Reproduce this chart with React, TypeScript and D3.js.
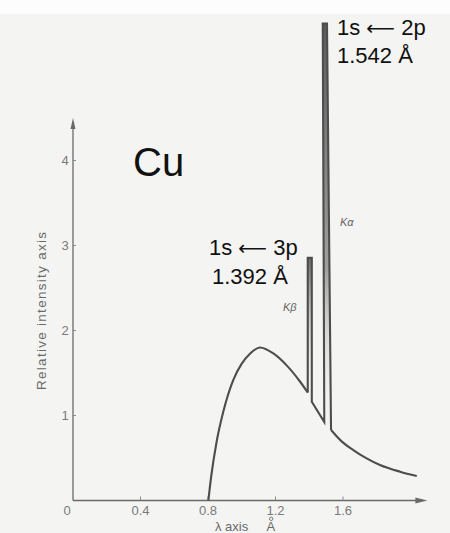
import React from "react";
import * as d3 from "d3";

// Continuum (bremsstrahlung) rise — wavelength (Å) and relative intensity
const riseLambda = [0.802, 0.82, 0.85, 0.89, 0.95, 1.0, 1.05, 1.108, 1.187, 1.266, 1.345, 1.391];
const riseIntensity = [0, 0.3, 0.68, 1.04, 1.42, 1.61, 1.73, 1.8, 1.73, 1.59, 1.4, 1.27];

// Characteristic lines Kβ and Kα
const peakLambda = [1.391, 1.391, 1.415, 1.415, 1.489, 1.48, 1.505, 1.529];
const peakIntensity = [1.27, 2.855, 2.855, 1.162, 0.924, 5.61, 5.61, 0.83];

// Continuum decay after Kα
const decayLambda = [1.529, 1.595, 1.661, 1.74, 1.819, 1.938, 2.037];
const decayIntensity = [0.83, 0.69, 0.594, 0.496, 0.418, 0.339, 0.288];

const xTicks = [0, 0.4, 0.8, 1.2, 1.6];
const xTickLabels = ["0", "0.4", "0.8", "1.2", "1.6"];
const yTicks = [1, 2, 3, 4];
const yTickLabels = ["1", "2", "3", "4"];

const W = 450;
const H = 533;

export default function App() {
  const x = d3.scaleLinear().domain([0, 2.1]).range([73, 427.4]);
  const y = d3.scaleLinear().domain([0, 4.5]).range([500.5, 118]);

  const smooth = d3
    .line<[number, number]>()
    .x((d) => x(d[0]))
    .y((d) => y(d[1]))
    .curve(d3.curveMonotoneX);
  const straight = d3
    .line<[number, number]>()
    .x((d) => x(d[0]))
    .y((d) => y(d[1]))
    .curve(d3.curveLinear);

  const rise = riseLambda.map((l, i) => [l, riseIntensity[i]] as [number, number]);
  const peaks = peakLambda.map((l, i) => [l, peakIntensity[i]] as [number, number]);
  const decay = decayLambda.map((l, i) => [l, decayIntensity[i]] as [number, number]);

  const kbFill: [number, number][] = [peaks[1], peaks[2], peaks[3], peaks[0]];
  const kaFill: [number, number][] = [peaks[5], peaks[6], peaks[7], peaks[4]];

  const stroke = "#4d4d4d";
  const axisColor = "#6a6a6a";
  const x0 = x(0);
  const y0 = y(0);
  const xEnd = x(2.1);
  const yTop = y(4.5);
  const font = "Liberation Sans, Arial, sans-serif";
  const arrowFont = "DejaVu Sans, sans-serif";

  return (
    <svg
      width={W}
      height={H}
      viewBox={`0 0 ${W} ${H}`}
      style={{ position: "absolute", left: 0, top: 0, display: "block" }}
    >
      <defs>
        <linearGradient id="kaGrad" x1="0" y1="0" x2="0" y2="1">
          <stop offset="0" stopColor="#5a5a5a" />
          <stop offset="0.6" stopColor="#7a7a7a" stopOpacity="0.7" />
          <stop offset="1" stopColor="#ffffff" stopOpacity="0" />
        </linearGradient>
        <linearGradient id="kbGrad" x1="0" y1="0" x2="0" y2="1">
          <stop offset="0" stopColor="#6a6a6a" />
          <stop offset="0.4" stopColor="#9a9a9a" stopOpacity="0.5" />
          <stop offset="1" stopColor="#ffffff" stopOpacity="0" />
        </linearGradient>
      </defs>
      <rect x={0} y={0} width={W} height={H} fill="#f4f4f2" />
      <rect x={0} y={0} width={W} height={14} fill="#fdfdfd" />

      {/* axes */}
      <line x1={x0} y1={y0} x2={xEnd - 6} y2={y0} stroke={axisColor} strokeWidth={1.3} />
      <path
        d={`M${xEnd},${y0} L${xEnd - 12},${y0 - 3} L${xEnd - 12},${y0 + 3} Z`}
        fill={axisColor}
      />
      <line x1={x0} y1={y0} x2={x0} y2={yTop + 6} stroke={axisColor} strokeWidth={1.3} />
      <path
        d={`M${x0},${yTop} L${x0 - 2.5},${yTop + 11} L${x0 + 2.5},${yTop + 11} Z`}
        fill={axisColor}
      />

      {xTicks.map((t, i) =>
        t === 0 ? null : (
          <line key={"xt" + i} x1={x(t)} x2={x(t)} y1={y0} y2={y0 - 4} stroke="#8a8a8a" strokeWidth={1} />
        )
      )}
      {xTicks.map((t, i) => (
        <text
          key={"xl" + i}
          x={t === 0 ? x(t) - 6 : x(t)}
          y={515}
          textAnchor="middle"
          fontFamily={font}
          fontSize={13}
          fill="#7a7a7a"
        >
          {xTickLabels[i]}
        </text>
      ))}
      {yTicks.map((t, i) => (
        <g key={"yt" + i}>
          <line x1={x0} x2={x0 + 3} y1={y(t)} y2={y(t)} stroke="#8a8a8a" strokeWidth={1} />
          <text
            x={x0 - 8}
            y={y(t)}
            dy="0.35em"
            textAnchor="middle"
            fontFamily={font}
            fontSize={13}
            fill="#7a7a7a"
          >
            {yTickLabels[i]}
          </text>
        </g>
      ))}

      <text
        transform={`translate(46, 311) rotate(-90)`}
        textAnchor="middle"
        fontFamily={font}
        fontSize={13.5}
        fill="#6a6a6a"
        textLength={158}
        lengthAdjust="spacing"
      >
        Relative intensity axis
      </text>

      <text x={215} y={530.5} fontFamily={font} fontSize={13} fill="#6a6a6a">
        λ axis
      </text>
      <text x={266.5} y={530.5} fontFamily={font} fontSize={13} fill="#6a6a6a">
        A
      </text>
      <circle cx={271.2} cy={518.8} r={1.7} fill="none" stroke="#6a6a6a" strokeWidth={0.9} />

      {/* peak fills */}
      <path d={straight(kbFill) + "Z"} fill="url(#kbGrad)" stroke="none" />
      <path d={straight(kaFill) + "Z"} fill="url(#kaGrad)" stroke="none" />

      {/* spectrum */}
      <path d={smooth(rise) || ""} fill="none" stroke={stroke} strokeWidth={2.1} strokeLinejoin="round" />
      <path d={straight(peaks) || ""} fill="none" stroke={stroke} strokeWidth={2.1} strokeLinejoin="miter" />
      <path d={smooth(decay) || ""} fill="none" stroke={stroke} strokeWidth={2.1} strokeLinejoin="round" />

      {/* annotations */}
      <text x={133} y={176} fontFamily={font} fontSize={40} fill="#111">
        Cu
      </text>
      <text x={337} y={35} fontFamily={font} fontSize={22} fill="#111">
        1s <tspan fontFamily={arrowFont} fontSize={20}>⟵</tspan> 2p
      </text>
      <text x={337} y={63} fontFamily={font} fontSize={22} fill="#111">
        1.542 Å
      </text>
      <text x={209} y={255} fontFamily={font} fontSize={22} fill="#111">
        1s <tspan fontFamily={arrowFont} fontSize={20}>⟵</tspan> 3p
      </text>
      <text x={212} y={284} fontFamily={font} fontSize={22} fill="#111">
        1.392 Å
      </text>
      <text x={283} y={311} fontFamily={font} fontStyle="italic" fontSize={11} fill="#666">
        Kβ
      </text>
      <text x={340} y={226} fontFamily={font} fontStyle="italic" fontSize={11} fill="#666">
        Kα
      </text>
    </svg>
  );
}
